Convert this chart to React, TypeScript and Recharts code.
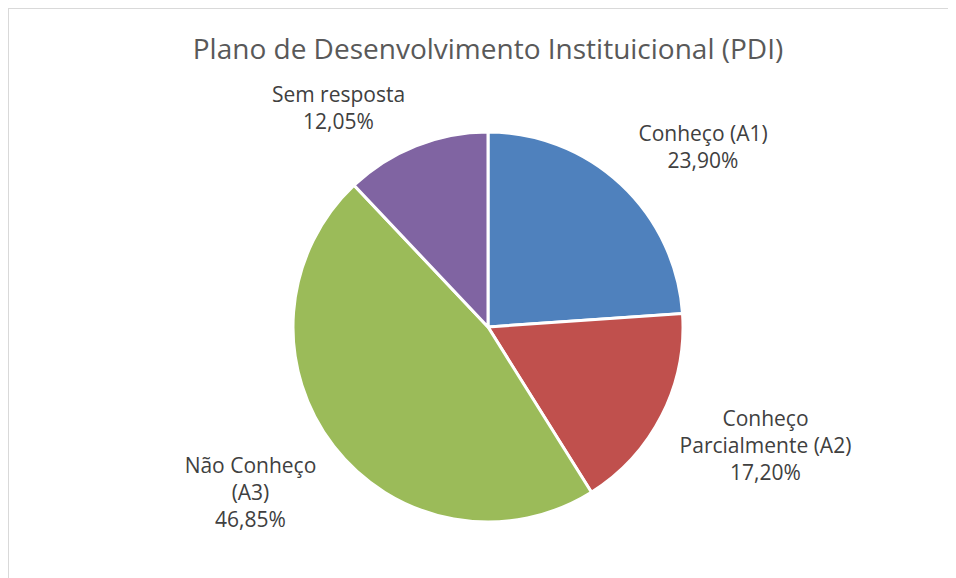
import React from "react";
import { PieChart, Pie, Cell } from "recharts";

const categories = ["Conheço (A1)", "Conheço Parcialmente (A2)", "Não Conheço (A3)", "Sem resposta"];
const labelLines = [["Conheço (A1)"], ["Conheço", "Parcialmente (A2)"], ["Não Conheço", "(A3)"], ["Sem resposta"]];
const values = [23.9, 17.2, 46.85, 12.05];
const COLORS = ["#4F81BD", "#C0504D", "#9BBB59", "#8064A2"];

// label nudges to mimic Excel's "best fit" placement
const NUDGE = [
  [24, 24],
  [28, -9],
  [-16, -6],
  [-46, 41],
];

const data = categories.map((name, i) => ({ name, value: values[i], lines: labelLines[i] }));

const FONT = "'Open Sans', sans-serif";
const RADIAN = Math.PI / 180;

function renderLabel(props: any) {
  const { cx, cy, midAngle, outerRadius, index, value } = props;
  const r = outerRadius + 85;
  const x = cx + r * Math.cos(-midAngle * RADIAN) + NUDGE[index][0];
  const y = cy + r * Math.sin(-midAngle * RADIAN) + NUDGE[index][1];
  const lines = [...data[index].lines, value.toFixed(2).replace(".", ",") + "%"];
  const lh = 27;
  const top = y - ((lines.length - 1) * lh) / 2;
  return (
    <text
      x={x}
      y={top}
      textAnchor="middle"
      dominantBaseline="central"
      fill="#404040"
      fontSize={21}
      fontFamily={FONT}
    >
      {lines.map((l, i) => (
        <tspan key={i} x={x} y={top + i * lh}>
          {l}
        </tspan>
      ))}
    </text>
  );
}

export default function App() {
  return (
    <div
      style={{
        width: 948,
        height: 570,
        borderTop: "1px solid #d9d9d9",
        borderLeft: "1px solid #d9d9d9",
        background: "#fff",
        position: "relative",
      }}
    >
      <PieChart width={947} height={569}>
        <text
          x={479}
          y={39}
          textAnchor="middle"
          dominantBaseline="central"
          fill="#595959"
          fontSize={28}
          fontFamily={FONT}
        >
          Plano de Desenvolvimento Instituicional (PDI)
        </text>
        <Pie
          data={data}
          dataKey="value"
          nameKey="name"
          cx={474}
          cy={313}
          outerRadius={195}
          startAngle={90}
          endAngle={-270}
          stroke="#fff"
          strokeWidth={3}
          label={renderLabel}
          labelLine={false}
          isAnimationActive={false}
        >
          {data.map((_, i) => (
            <Cell key={i} fill={COLORS[i]} />
          ))}
        </Pie>
      </PieChart>
    </div>
  );
}
